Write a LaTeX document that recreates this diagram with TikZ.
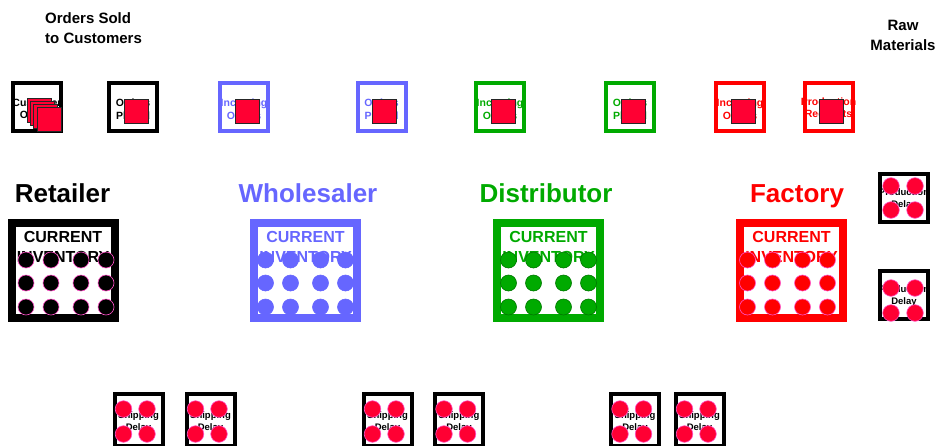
\documentclass[tikz,border=0pt]{standalone}
\usepackage{fontspec}
\setmainfont{Liberation Sans}
\usetikzlibrary{positioning}
\definecolor{wblue}{RGB}{102,102,255}
\definecolor{dgreen}{RGB}{0,170,0}
\definecolor{fred}{RGB}{255,0,0}
\definecolor{chip}{RGB}{255,0,51}
\definecolor{rim}{RGB}{255,80,200}

\begin{document}
\begin{tikzpicture}[x=1pt,y=-1pt,
  smallbox/.style={draw,line width=4pt,minimum width=48pt,minimum height=48pt,inner sep=0pt},
  boxlbl/.style={align=center,inner sep=0pt,font=\fontsize{10.5}{12.5}\selectfont\bfseries},
  dlbl/.style={align=center,inner sep=0pt,font=\fontsize{9.5}{11.5}\selectfont\bfseries},
  invbox/.style={draw,line width=8pt,minimum width=103pt,minimum height=95pt,inner sep=0pt},
  invlbl/.style={align=center,inner sep=0pt,font=\fontsize{16}{20}\selectfont\bfseries},
  title/.style={inner sep=0pt,anchor=base,font=\fontsize{26}{30}\selectfont\bfseries},
  note/.style={inner sep=0pt,font=\fontsize{15}{20}\selectfont\bfseries},
  chipsq/.style={fill=chip,draw=black!85,line width=0.6pt},
  dot/.style={fill=chip,draw=rim,line width=0.6pt}]
\clip (0,0) rectangle (940,445);

\node[note,align=left,anchor=west] (sold) at (45,28) {Orders Sold\\to Customers};
\node[note,align=center] (raw) at (903,35) {Raw\\Materials};

% order boxes, top row
\node[boxlbl] (custlbl) at (37,109) {Customer\\Orders};
\node[smallbox] (custord) at (37,107) {};
\foreach \k in {0,1,2,3}
  \draw[chipsq] ({27+3.3*\k},{98+3*\k}) rectangle +(24,24);
\foreach \nm/\cx/\col/\txt in {retplaced/133/black/{Orders\\Placed},
    whinc/244/wblue/{Incoming\\Orders}, whplaced/381.5/wblue/{Orders\\Placed},
    diinc/500/dgreen/{Incoming\\Orders}, diplaced/630/dgreen/{Orders\\Placed},
    fainc/740/fred/{Incoming\\Orders}, faprod/828.5/fred/{Production\\Requests}} {
  \node[boxlbl,text=\col] (\nm lbl) at (\cx,109) {\txt};
  \node[smallbox,draw=\col] (\nm) at (\cx,107) {};
  \draw[chipsq] (\cx-9,99) rectangle +(24,24);
}

% stages
\foreach \nm/\cx/\tx/\col/\edge/\sh/\lab in {ret/63/62.5/black/rim/3/Retailer,
    wh/305.5/308/wblue/wblue/0/Wholesaler,
    di/548.5/546/dgreen/dgreen!70!black/0/Distributor,
    fa/791.5/797/fred/rim/-4/Factory} {
  \node[title,text=\col] (\nm title) at (\tx,202) {\lab};
  \node[invbox,draw=\col] (\nm inv) at (\cx,270.5) {};
  \node[invlbl,text=\col] (\nm lbl) at (\cx,247) {CURRENT\\INVENTORY};
  \foreach \dx in {-40,-15,15,40}
    \foreach \yy in {260,283,307}
      \draw[fill=\col,draw=\edge,line width=0.6pt] (\cx+\dx+\sh,\yy) circle (8);
}

% production delays
\foreach \nm/\cy/\ta/\tb in {proda/198/186/210, prodb/295/288/313} {
  \node[dlbl] (\nm lbl) at (904,\cy+1) {Production\\Delay};
  \node[smallbox] (\nm) at (904,\cy) {};
  \foreach \dx in {-13,11}
    \foreach \yy in {\ta,\tb}
      \draw[dot] (904+\dx,\yy) circle (8.3);
}

% shipping delays
\foreach \nm/\cx in {shipa/138.5, shipb/210.5, shipc/387.5, shipd/459, shipe/635, shipf/699.5} {
  \node[dlbl] (\nm lbl) at (\cx,422) {Shipping\\Delay};
  \node[smallbox,minimum height=52pt] (\nm) at (\cx,420) {};
  \foreach \dx in {-15,8.5}
    \foreach \yy in {409,434}
      \draw[dot] (\cx+\dx,\yy) circle (8.3);
}
\end{tikzpicture}
\end{document}
